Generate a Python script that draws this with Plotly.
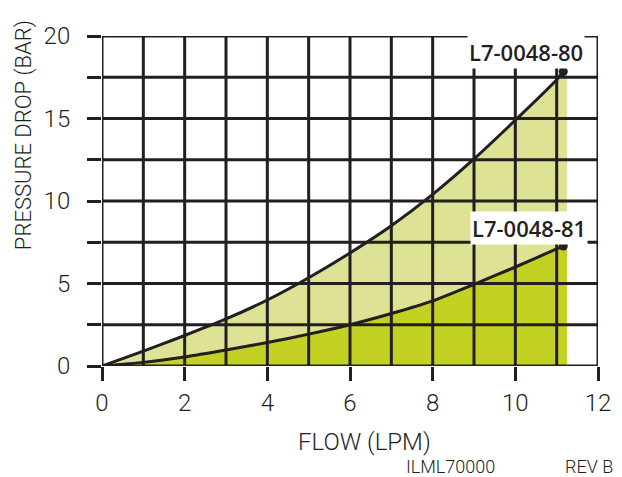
import plotly.graph_objects as go

# ---- data ----
flow = [0, 1, 2, 3, 4, 5, 6, 7, 8, 9, 10, 11, 11.16]
dp_80 = [0, 0.9, 1.85, 2.85, 4.0, 5.35, 6.85, 8.5, 10.4, 12.55, 14.9, 17.35, 17.85]
dp_81 = [0, 0.22, 0.55, 0.97, 1.42, 1.93, 2.5, 3.18, 3.95, 4.95, 6.0, 7.1, 7.27]
fill_end = 11.25  # shaded area runs slightly past the last point

x_ticks = [0, 2, 4, 6, 8, 10, 12]
x_grid = list(range(0, 13))
y_ticks = [0, 2.5, 5, 7.5, 10, 12.5, 15, 17.5, 20]
y_ticktext = ["0", "", "5", "", "10", "", "15", "", "20"]

name_80 = "L7-0048-80"
name_81 = "L7-0048-81"

INK = "#231f20"
LIGHT = "#dde295"
DARK = "#c3d123"
TECH = "Roboto, Liberation Sans Narrow, sans-serif"
LABEL = "Open Sans, Lato, sans-serif"

fx = flow + [fill_end]
f80 = dp_80 + [dp_80[-1]]
f81 = dp_81 + [dp_81[-1]]

fig = go.Figure()
fig.add_trace(go.Scatter(x=fx, y=f81, mode="none", fill="tozeroy",
                         fillcolor=DARK, hoverinfo="skip"))
fig.add_trace(go.Scatter(x=fx, y=f80, mode="none", fill="tonexty",
                         fillcolor=LIGHT, hoverinfo="skip"))
for ys in (dp_80, dp_81):
    fig.add_trace(go.Scatter(x=flow, y=ys, mode="lines",
                             line=dict(color=INK, width=3, shape="spline", smoothing=0.6)))
    fig.add_trace(go.Scatter(x=[flow[-1]], y=[ys[-1]], mode="markers",
                             marker=dict(color=INK, size=9)))

shapes = []
for v in x_grid:
    shapes.append(dict(type="line", xref="x", yref="paper", x0=v, x1=v, y0=0, y1=1,
                       line=dict(color=INK, width=3), layer="above"))
for v in y_ticks:
    shapes.append(dict(type="line", xref="paper", yref="y", x0=0, x1=1, y0=v, y1=v,
                       line=dict(color=INK, width=3), layer="above"))

def note(text, x, y, size, family=TECH, weight=300, angle=0, bg=None):
    d = dict(text=text, xref="paper", yref="paper", x=x, y=y, xanchor="center",
             yanchor="middle", showarrow=False, textangle=angle,
             font=dict(family=family, size=size, color=INK, weight=weight))
    if bg:
        d.update(bgcolor=bg, borderpad=1)
    return d

ann = [
    note(name_80, 10.25, 19.05, 22, family=LABEL, weight=600, bg="white"),
    note(name_81, 10.33, 8.35, 22, family=LABEL, weight=600, bg="white"),
    note("FLOW (LPM)", 0.530, -0.230, 24),
    note("PRESSURE DROP (BAR)", -0.157, 0.70, 22, angle=-90),
    note("ILML70000", 0.702, -0.306, 18),
    note("REV B", 0.982, -0.306, 18),
]
for a in ann[:2]:
    a["xref"], a["yref"] = "x", "y"

fig.update_layout(
    width=622, height=477,
    margin=dict(l=102, r=24, t=36, b=111),
    paper_bgcolor="white", plot_bgcolor="white",
    showlegend=False,
    shapes=shapes, annotations=ann,
    xaxis=dict(range=[0, 12], tickvals=x_ticks, ticks="outside", ticklen=14,
               tickwidth=3, tickcolor=INK, showgrid=False, zeroline=False,
               showline=False, ticklabelstandoff=1,
               tickfont=dict(family=TECH, size=24, color=INK, weight=300), fixedrange=True),
    yaxis=dict(range=[0, 20], tickvals=y_ticks, ticktext=y_ticktext, ticks="outside",
               ticklen=14, tickwidth=3, tickcolor=INK, showgrid=False, zeroline=False,
               showline=False, ticklabelstandoff=12,
               tickfont=dict(family=TECH, size=24, color=INK, weight=300), fixedrange=True),
)

fig.write_html("out.html", config={"displayModeBar": False},
               post_script="document.body.style.margin='0';")
